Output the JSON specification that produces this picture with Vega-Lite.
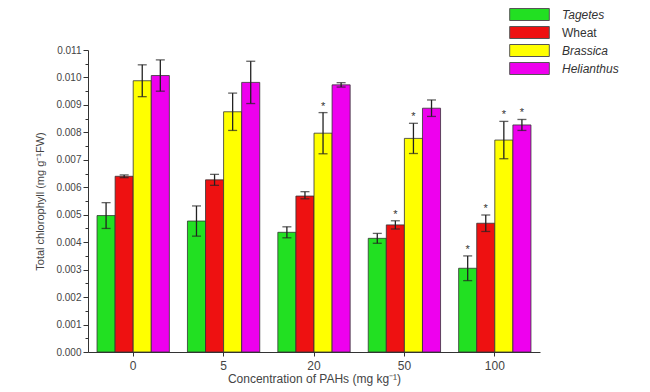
{
  "$schema": "https://vega.github.io/schema/vega-lite/v6.json",
  "autosize": {"type": "none"},
  "padding": {"left": 88, "top": 50, "right": 110, "bottom": 40},
  "width": 452,
  "height": 302,
  "background": "white",
  "config": {
    "view": {"stroke": null},
    "font": "Liberation Sans",
    "axis": {"domainColor": "#333", "tickColor": "#333", "labelColor": "#444", "titleColor": "#444", "grid": false, "titleFontWeight": "normal"}
  },
  "data": {
    "values": [
      {"conc": "0", "species": "Tagetes", "value": 0.00497, "lo": 0.0045, "hi": 0.00544, "star": false},
      {"conc": "0", "species": "Wheat", "value": 0.0064, "lo": 0.00635, "hi": 0.00645, "star": false},
      {"conc": "0", "species": "Brassica", "value": 0.00988, "lo": 0.0093, "hi": 0.01046, "star": false},
      {"conc": "0", "species": "Helianthus", "value": 0.01007, "lo": 0.0095, "hi": 0.01064, "star": false},
      {"conc": "5", "species": "Tagetes", "value": 0.00477, "lo": 0.00422, "hi": 0.00532, "star": false},
      {"conc": "5", "species": "Wheat", "value": 0.00627, "lo": 0.00607, "hi": 0.00647, "star": false},
      {"conc": "5", "species": "Brassica", "value": 0.00875, "lo": 0.00807, "hi": 0.00943, "star": false},
      {"conc": "5", "species": "Helianthus", "value": 0.00982, "lo": 0.00905, "hi": 0.01059, "star": false},
      {"conc": "20", "species": "Tagetes", "value": 0.00436, "lo": 0.00416, "hi": 0.00456, "star": false},
      {"conc": "20", "species": "Wheat", "value": 0.00568, "lo": 0.00558, "hi": 0.00584, "star": false},
      {"conc": "20", "species": "Brassica", "value": 0.00797, "lo": 0.00722, "hi": 0.00872, "star": true},
      {"conc": "20", "species": "Helianthus", "value": 0.00973, "lo": 0.00965, "hi": 0.00981, "star": false},
      {"conc": "50", "species": "Tagetes", "value": 0.00414, "lo": 0.00396, "hi": 0.00432, "star": false},
      {"conc": "50", "species": "Wheat", "value": 0.00463, "lo": 0.00448, "hi": 0.00478, "star": true},
      {"conc": "50", "species": "Brassica", "value": 0.00778, "lo": 0.00723, "hi": 0.00833, "star": true},
      {"conc": "50", "species": "Helianthus", "value": 0.00888, "lo": 0.00858, "hi": 0.00918, "star": false},
      {"conc": "100", "species": "Tagetes", "value": 0.00305, "lo": 0.0026, "hi": 0.0035, "star": true},
      {"conc": "100", "species": "Wheat", "value": 0.00469, "lo": 0.00439, "hi": 0.00499, "star": true},
      {"conc": "100", "species": "Brassica", "value": 0.00772, "lo": 0.00704, "hi": 0.0084, "star": true},
      {"conc": "100", "species": "Helianthus", "value": 0.00827, "lo": 0.00807, "hi": 0.00847, "star": true}
    ]
  },
  "encoding": {
    "x": {
      "field": "conc", "type": "nominal", "sort": ["0", "5", "20", "50", "100"],
      "scale": {"paddingInner": 0.2, "paddingOuter": 0.1},
      "axis": {"title": "Concentration of PAHs (mg kg⁻¹)", "labelAngle": 0, "labelFontSize": 12, "titleFontSize": 12, "labelPadding": 4, "titlePadding": 2, "tickSize": 4}
    },
    "xOffset": {"field": "species", "type": "nominal", "sort": ["Tagetes", "Wheat", "Brassica", "Helianthus"]}
  },
  "resolve": {"axis": {"y": "independent"}},
  "layer": [
    {
      "mark": {"type": "bar", "stroke": "#333", "strokeWidth": 0.8},
      "encoding": {
        "y": {
          "field": "value", "type": "quantitative",
          "scale": {"domain": [0, 0.011], "nice": false},
          "axis": {"title": "Total chlorophyll (mg g⁻¹FW)", "format": ".3f", "values": [0, 0.001, 0.002, 0.003, 0.004, 0.005, 0.006, 0.007, 0.008, 0.009, 0.01, 0.011], "labelOverlap": false, "labelFontSize": 10, "titleFontSize": 11, "tickSize": 5, "titlePadding": 10}
        },
        "color": {
          "field": "species", "type": "nominal",
          "scale": {"domain": ["Tagetes", "Wheat", "Brassica", "Helianthus"], "range": ["#22e022", "#ee1111", "#ffff00", "#ee00ee"]},
          "legend": {
            "title": null, "orient": "none", "legendX": 435, "legendY": -42,
            "symbolType": "M-3.3,-1H3.3V1H-3.3Z", "symbolSize": 144, "symbolStrokeColor": "#555", "symbolStrokeWidth": 1,
            "labelFontSize": 12, "labelColor": "#333", "rowPadding": 1, "labelOffset": 26,
            "labelFontStyle": {"expr": "datum.label == 'Wheat' ? 'normal' : 'italic'"}
          }
        }
      }
    },
    {
      "mark": {"type": "rule", "color": "#222", "strokeWidth": 1.3},
      "encoding": {"y": {"field": "lo", "type": "quantitative", "axis": {"orient": "left", "values": [0.0005, 0.0015, 0.0025, 0.0035, 0.0045, 0.0055, 0.0065, 0.0075, 0.0085, 0.0095, 0.0105], "labels": false, "domain": false, "title": null, "tickSize": 3}}, "y2": {"field": "hi"}}
    },
    {
      "mark": {"type": "tick", "color": "#222", "size": 9, "thickness": 1.3},
      "encoding": {"y": {"field": "lo", "type": "quantitative", "axis": null}}
    },
    {
      "mark": {"type": "tick", "color": "#222", "size": 9, "thickness": 1.3},
      "encoding": {"y": {"field": "hi", "type": "quantitative", "axis": null}}
    },
    {
      "transform": [{"filter": "datum.star"}],
      "mark": {"type": "text", "text": "*", "fontSize": 11, "dy": -1, "baseline": "bottom", "color": "#333"},
      "encoding": {"y": {"field": "hi", "type": "quantitative", "axis": null}}
    }
  ]
}
